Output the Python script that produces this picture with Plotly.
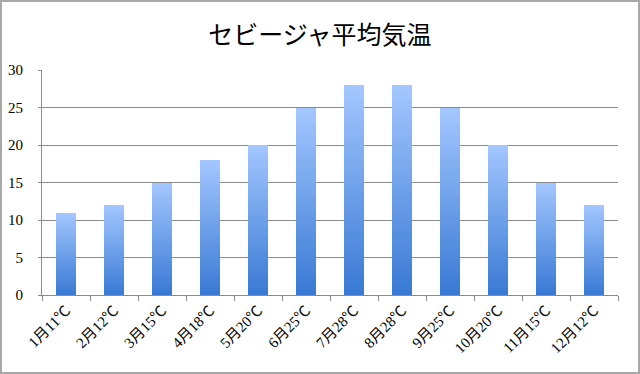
import plotly.graph_objects as go

months = ["1月11℃", "2月12℃", "3月15℃", "4月18℃", "5月20℃", "6月25℃",
          "7月28℃", "8月28℃", "9月25℃", "10月20℃", "11月15℃", "12月12℃"]
temps = [11, 12, 15, 18, 20, 25, 28, 28, 25, 20, 15, 12]
title_text = "セビージャ平均気温"
y_ticks = [0, 5, 10, 15, 20, 25, 30]

# vertical gradient per bar: stack N slices of each bar, dark at bottom -> light at top
N = 40
dark = (58, 122, 212)
light = (162, 198, 255)

fig = go.Figure()
for i in range(N):
    t = i / (N - 1)
    c = tuple(round(dark[k] + (light[k] - dark[k]) * t) for k in range(3))
    fig.add_trace(go.Bar(
        x=months, y=[v / N for v in temps],
        marker=dict(color="rgb(%d,%d,%d)" % c, line=dict(width=0)),
        width=0.4, showlegend=False, hoverinfo="skip",
    ))

L, R, T, B = 42, 22, 70, 79
W, H = 640, 374
pw, ph = W - L - R, H - T - B

fig.update_layout(
    barmode="stack",
    width=W, height=H,
    margin=dict(l=L, r=R, t=T, b=B, autoexpand=False),
    paper_bgcolor="white", plot_bgcolor="white",
    title=dict(text=title_text, x=0.5, xanchor="center", y=1 - 35 / H, yanchor="middle",
               font=dict(family="Noto Sans CJK JP", size=25, color="black")),
    font=dict(family="Liberation Serif, Noto Sans CJK JP", size=14, color="black"),
    xaxis=dict(type="category", tickangle=-45, showgrid=False, automargin=False,
               showline=True, linecolor="#8c8c8c", linewidth=1,
               ticks="outside", tickson="boundaries", ticklen=5, tickcolor="#8c8c8c",
               tickfont=dict(family="Liberation Serif, Noto Sans CJK JP", size=15)),
    yaxis=dict(range=[0, 30], tickvals=y_ticks, showgrid=True, gridcolor="#8c8c8c", gridwidth=1,
               showline=True, linecolor="#8c8c8c", linewidth=1, zeroline=False, automargin=False,
               ticks="outside", ticklen=3, tickcolor="#8c8c8c", ticklabelstandoff=12,
               tickfont=dict(family="Liberation Serif", size=15)),
    shapes=[dict(type="rect", xref="paper", yref="paper",
                 x0=-(L - 1) / pw, x1=(W - L - 1) / pw,
                 y0=-(B - 1) / ph, y1=(ph + T - 1) / ph,
                 line=dict(color="#a8a8a8", width=2), layer="above")],
)

fig.write_html("out.html", config={"displayModeBar": False},
               post_script="document.body.style.margin='0';document.body.style.overflow='hidden';")
